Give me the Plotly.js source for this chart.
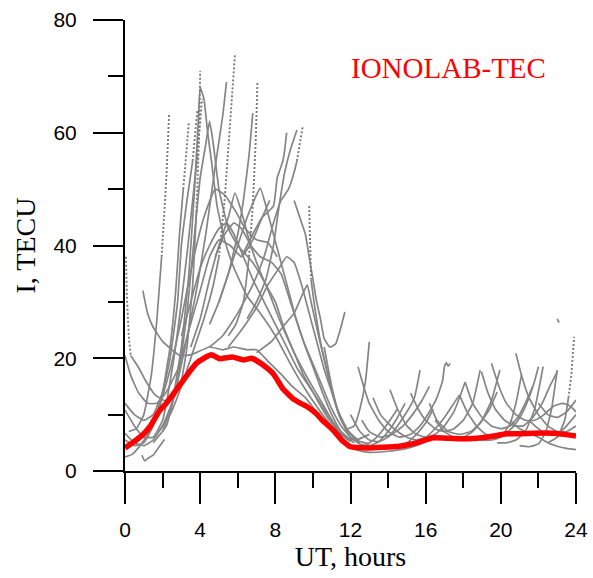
<!DOCTYPE html>
<html>
<head>
<meta charset="utf-8">
<script src="https://cdn.plot.ly/plotly-3.0.1.min.js"></script>
<style>
  html, body { margin: 0; padding: 0; background: #ffffff; }
  #chart { width: 593px; height: 578px; }
</style>
</head>
<body>
<div id="chart"></div>
<script>
// ---- IONOLAB-TEC daily curve: [UT hour, TECU] ----
const ionolabTec = [
  [0, 4.1], [0.6, 5.5], [1.0, 6.6], [1.33, 7.9], [1.86, 10.8], [2.2, 12.0], [2.93, 15.3],
  [3.3, 17.0], [3.8, 19.1], [4.2, 20.0], [4.6, 20.6], [5.05, 19.9], [5.4, 20.1],
  [5.75, 20.2], [6.3, 19.7], [6.75, 20.0], [7.35, 18.8], [7.9, 17.2], [8.4, 14.6],
  [8.95, 12.8], [9.3, 12.1], [9.7, 11.4], [10.2, 10.1], [10.5, 9.0], [11.1, 7.2],
  [11.5, 5.6], [12.0, 4.3], [12.9, 4.1], [13.7, 4.2], [14.6, 4.4], [15.5, 5.0],
  [16.4, 5.9], [17.3, 5.8], [18.2, 5.7], [19.0, 5.9], [19.6, 6.2], [20.3, 6.6],
  [21.0, 6.6], [21.7, 6.7], [22.8, 6.7], [23.4, 6.5], [24, 6.2]
];

// ---- satellite arcs (slant TEC), daytime ----
const arc01 = [[0.3,20.5],[0.7,18.5],[1.1,16],[1.6,13.5],[2.1,12.5],[2.6,13],[3.0,16],[3.3,22],[3.6,33],[3.8,46]];
const arc02 = [[0.2,7],[0.6,7.5],[1.0,10],[1.4,17],[1.7,27],[1.95,38]];
const arc03 = [[0.95,32],[1.2,28],[1.5,25.5],[2.0,23],[2.9,20.5],[3.5,20.6],[4.5,22],[5.2,21.5],[5.8,22],[6.5,21.5],[7.0,21.5],[7.6,19.5],[8.3,17.2],[8.9,15],[9.6,13],[10.3,10],[11.0,7],[11.6,5],[12.2,4.2],[12.8,4.5],[13.4,6],[14.0,8.5],[14.5,11]];
const arc04 = [[0.9,2.8],[1.05,1.8],[1.2,2.2],[1.5,2.8],[1.8,4.2],[2.1,5.6]];
const arc05 = [[0,12],[0.5,10],[1.0,9],[1.5,10],[2.0,14],[2.4,20],[2.8,30],[3.0,40],[3.3,48],[3.6,55]];
const arc06 = [[0,10.8],[0.5,8],[1.0,6],[1.5,6],[2.0,9],[2.6,20],[3.0,30],[3.35,40],[3.6,48],[3.85,56]];
const arc07 = [[0,6.7],[0.5,5],[1.0,4.5],[1.5,5.5],[2.0,8],[2.6,13],[3.2,22],[3.8,32],[4.3,42],[4.8,54],[5.2,63],[5.4,69]];
const arc08 = [[0,2.5],[0.4,3],[0.8,4.5],[1.3,7],[1.8,11],[2.4,18],[3.0,27],[3.6,37],[4.2,45],[4.8,50],[5.3,49],[5.9,46],[6.4,43],[7.0,41],[7.6,40.5],[8.1,38]];
const arc09 = [[0,20.5],[0.3,17],[0.7,14],[1.2,12],[1.7,12],[2.2,14],[2.8,18],[3.4,25],[4.0,32],[4.5,38],[5.0,41],[5.6,40],[6.2,38],[6.8,41],[7.3,45],[7.7,48]];
const arc10 = [[1.8,7],[2.4,10],[3.0,15],[3.6,21],[4.2,27],[4.7,33],[5.0,38]];
const arc11 = [[2.0,7],[2.5,12],[3.0,22],[3.4,35],[3.7,50],[3.9,62],[4.0,68],[4.2,66],[4.4,60],[4.6,55],[4.9,47],[5.3,41],[5.8,36],[6.5,31],[7.2,28],[8.0,24],[8.8,19],[9.5,15],[10.3,11],[11.0,8],[11.7,6],[12.3,5.5],[13.0,6.5]];
const arc12 = [[1.5,5],[2.2,8],[2.8,16],[3.3,28],[3.7,42],[4.0,52],[4.3,58],[4.5,62],[4.7,58],[5.0,50],[5.5,43],[6.0,40],[6.8,37],[7.5,33],[8.2,27],[9.0,21],[9.8,16],[10.5,12],[11.2,8],[11.8,6]];
const arc13 = [[5.5,24],[5.9,26],[6.3,30],[6.6,38]];
const arc14 = [[5.0,30],[5.5,35],[6.0,42],[6.3,48],[6.6,56],[6.8,63.5]];
const arc15 = [[6.5,27],[7.0,30],[7.5,34],[7.9,40],[8.2,47],[8.5,53],[8.8,57],[9.15,60.5]];
const arc16 = [[6.2,38],[6.8,42],[7.3,45],[7.9,47],[8.1,52],[8.4,55],[8.5,57],[8.6,60]];
const arc17 = [[9.9,34],[10.1,29],[10.4,23],[10.7,18.5],[11.1,13],[11.5,9],[12.0,6],[12.5,4.8],[13.0,4.5],[13.5,5.2],[14.0,7],[14.5,9.5],[14.9,12]];
const arc18 = [[9.0,48],[9.3,45],[9.6,42],[9.8,38],[10.0,34],[10.2,30],[10.4,27],[10.6,23.5],[10.9,22],[11.2,22.5],[11.45,25],[11.7,28.2]];
const arc19 = [[3.5,22],[4.0,27],[4.5,34],[5.0,40],[5.5,45],[5.85,49.3],[6.2,46],[6.6,41],[7.0,37],[7.5,33],[8.0,30],[8.5,25],[9.0,21],[9.5,17],[10.0,14],[10.5,11],[11.0,8.5],[11.5,6.5],[12.0,5.2]];
const arc20 = [[4.5,26],[5.0,30],[5.5,35],[6.0,40],[6.5,45],[7.0,49],[7.2,50.2],[7.5,47],[7.9,42],[8.3,37],[8.7,32],[9.1,27],[9.5,23],[10.0,19],[10.5,15],[11.0,11],[11.5,8],[12.0,6],[12.5,5]];
const arc21 = [[4.8,38],[5.3,42],[5.8,44],[6.2,43],[6.7,40],[7.2,38],[7.8,37],[8.3,35],[8.8,30],[9.2,26],[9.6,22],[10.0,18.5],[10.5,14],[11.0,10],[11.5,7],[12.0,5.5]];
const arc22 = [[4.5,22],[5.2,24],[6.0,28],[6.8,33],[7.4,38],[7.9,44],[8.3,48],[8.7,50],[9.0,53],[9.15,55]];
const arc23 = [[3.0,24],[3.5,30],[4.0,36],[4.5,40],[5.0,43],[5.4,44],[5.8,42],[6.3,38],[6.8,34],[7.4,30],[8.0,26],[8.6,22],[9.2,18],[9.8,15],[10.4,12],[11.0,9],[11.6,6.5],[12.2,5]];
const arc24 = [[5.5,22],[6.2,25],[7.0,29],[7.6,33],[8.2,36],[8.6,38],[9.0,37],[9.4,33],[9.8,28],[10.2,23],[10.6,18],[11.0,14],[11.4,10],[11.9,7],[12.4,5.5]];
const arc25 = [[7.0,21],[7.8,23],[8.5,26],[9.0,28],[9.4,31],[9.7,33],[9.9,30],[10.3,24],[10.8,17],[11.3,11],[11.8,7.5],[12.3,5.5],[13.0,4.8]];
const arc50 = [[0,5.5],[0.5,4.5],[1.0,5],[1.5,8],[2.0,14],[2.4,22],[2.7,32],[2.9,42],[3.1,50]];

// steep, sparsely sampled parts of the arcs (drawn dotted)
const tail01a = [[0.05,38],[0.1,31],[0.2,24],[0.3,20.5]];
const tail01b = [[3.8,46],[3.95,60],[4.0,71]];
const tail02 = [[1.95,38],[2.2,52],[2.35,63.5]];
const tail05 = [[3.6,55],[3.75,60],[3.85,64]];
const tail06 = [[3.85,56],[4.0,62],[4.1,66]];
const tail10 = [[5.0,38],[5.3,48],[5.6,62],[5.85,73.8]];
const tail13 = [[6.6,38],[6.8,47],[6.95,58],[7.05,69]];
const tail17 = [[9.8,47],[9.85,40],[9.9,34]];
const tail22 = [[9.15,55],[9.3,58],[9.45,61]];
const tail50 = [[3.1,50],[3.3,58],[3.4,62]];

// ---- satellite arcs, afternoon and night ----
const arc26 = [[12.4,18.5],[12.7,15],[13.0,12],[13.5,9],[14.0,7],[14.6,6],[15.2,6.5],[15.7,8],[16.2,10.5],[16.6,13],[16.9,16],[17.0,18.5],[17.1,19.2],[17.2,18.6],[17.3,19.1]];
const arc27 = [[10.6,22],[11.0,15],[11.4,10],[11.8,7.5],[12.2,8],[12.5,11],[12.8,16],[13.0,22.9]];
const arc28 = [[12.0,10],[12.5,7],[13.0,5.5],[13.5,5.2],[14.0,6],[14.5,8],[15.0,10.5],[15.4,13],[15.7,17.9]];
const arc29 = [[13.2,13],[13.6,10],[14.0,8.5],[14.5,7],[15.0,6],[15.5,5.5],[16.0,6],[16.5,7.5],[17.0,9.5],[17.5,12],[17.8,13.5]];
const arc30 = [[14.1,14.4],[14.5,11],[15.0,8],[15.5,6.5],[16.0,6],[16.5,6.5],[17.0,8],[17.5,10.5],[17.8,13],[18.1,15.8]];
const arc31 = [[15.2,13.8],[15.6,11],[16.0,9],[16.5,7.5],[17.0,7],[17.5,7.5],[18.0,9],[18.5,12],[18.9,17.9]];
const arc32 = [[11.8,4.5],[12.3,3.8],[13.0,3.3],[14.0,3.5],[15.0,4.0],[15.6,4.6],[16.2,5.5]];
const arc33 = [[17.8,13.5],[18.2,10.5],[18.7,8],[19.2,6.5],[19.7,6],[20.2,6.5],[20.7,8],[21.1,10],[21.5,13],[21.8,16],[22.0,18.5]];
const arc34 = [[18.1,15.8],[18.5,12],[19.0,9.5],[19.5,8],[20.0,7.5],[20.5,8],[20.9,9.5],[21.3,12],[21.7,15]];
const arc35 = [[18.97,17.6],[19.3,14],[19.7,11],[20.2,9],[20.7,8],[21.2,8],[21.7,9.5],[22.2,12],[22.6,15],[23.0,17.6]];
const arc36 = [[19.5,19.1],[19.9,15],[20.3,12],[20.8,10],[21.3,9],[21.8,9],[22.3,10],[22.8,11.5],[23.3,12],[23.7,11.5],[24.0,10.5]];
const arc37 = [[20.8,20.9],[21.1,17],[21.5,13],[22.0,10],[22.5,8],[23.0,7],[23.5,7],[24.0,8]];
const arc38 = [[16.5,9],[17.0,7],[17.5,6],[18.0,6],[18.5,7],[19.0,9],[19.5,12.5],[19.95,17.9]];
const arc39 = [[18.5,6],[19.0,5.5],[19.5,5.5],[20.0,6],[20.5,8.5],[20.8,12],[21.1,17]];
const arc40 = [[19.8,5],[20.3,5],[20.8,5.5],[21.3,7],[21.8,11],[22.25,18.5]];
const arc41 = [[21.0,4.5],[21.5,4.3],[22.0,4.8],[22.4,7],[22.7,11],[23.0,17.9]];
const arc42 = [[22.5,5],[23.0,6],[23.4,9],[23.6,13]];
const arc43 = [[23.0,27.0],[23.1,26.3]];
const arc44 = [[20.5,9],[21.0,7.5],[22.0,6],[22.5,5],[23.0,4.4],[23.5,4],[24.0,3.8]];
const arc45 = [[21.5,9],[22.0,7.5],[22.5,6.5],[23.0,6.5],[23.5,8],[24.0,10]];
const arc46 = [[22.0,12],[22.5,10],[23.0,9.5],[23.5,10.5],[24.0,12.6]];
const arc47 = [[14.5,4.5],[15.0,5],[15.5,6.5],[16.0,8.5],[16.4,11]];
const arc48 = [[16.2,12],[16.6,9],[17.2,7],[17.8,6.5],[18.4,7],[18.9,8.5],[19.4,11],[19.8,14]];
const arc49 = [[12.6,9],[13.0,7],[13.6,6],[14.2,6.5],[14.8,8],[15.3,10],[15.8,12.5],[16.2,15]];
const tail42 = [[23.6,13],[23.75,17],[23.9,23.8]];

const solidArcs = [arc01, arc02, arc03, arc04, arc05, arc06, arc07, arc08, arc09, arc10,
  arc11, arc12, arc13, arc14, arc15, arc16, arc17, arc18, arc19, arc20, arc21, arc22,
  arc23, arc24, arc25, arc26, arc27, arc28, arc29, arc30, arc31, arc32, arc33, arc34,
  arc35, arc36, arc37, arc38, arc39, arc40, arc41, arc42, arc43, arc44, arc45, arc46,
  arc47, arc48, arc49, arc50];
const dottedArcs = [tail01a, tail01b, tail02, tail05, tail06, tail10, tail13, tail17, tail22, tail42, tail50];

const xTicks = [0, 4, 8, 12, 16, 20, 24];
const yTicks = [0, 20, 40, 60, 80];

const GRAY = '#858585';
const traces = [];
solidArcs.forEach(a => traces.push({
  x: a.map(p => p[0]), y: a.map(p => p[1]),
  type: 'scatter', mode: 'lines', hoverinfo: 'skip', showlegend: false,
  line: { color: GRAY, width: 1.7, shape: 'spline', smoothing: 0.4 }
}));
dottedArcs.forEach(a => traces.push({
  x: a.map(p => p[0]), y: a.map(p => p[1]),
  type: 'scatter', mode: 'lines', hoverinfo: 'skip', showlegend: false,
  line: { color: '#7a7a7a', width: 1.9, dash: '2px,2px' }
}));
traces.push({
  x: ionolabTec.map(p => p[0]), y: ionolabTec.map(p => p[1]),
  type: 'scatter', mode: 'lines', name: 'IONOLAB-TEC', showlegend: false,
  line: { color: '#ff0000', width: 5.5, shape: 'spline', smoothing: 0.4 }
});

const layout = {
  width: 593, height: 578,
  margin: { l: 125, r: 17, t: 20, b: 107 },
  paper_bgcolor: '#ffffff', plot_bgcolor: '#ffffff',
  showlegend: false,
  xaxis: {
    range: [0, 24], tickvals: xTicks, ticktext: xTicks.map(String),
    showgrid: false, zeroline: false, showline: true, linecolor: '#000', linewidth: 2,
    ticks: 'outside', ticklen: 31, tickwidth: 2, tickcolor: '#000', ticklabelstandoff: 8,
    minor: { dtick: 2, tick0: 0, ticks: 'outside', ticklen: 15, tickwidth: 2, tickcolor: '#000', showgrid: false },
    tickfont: { family: 'Liberation Sans, Arial, sans-serif', size: 21, color: '#000' },
    title: { text: 'UT, hours', font: { family: 'Liberation Serif, Times New Roman, serif', size: 28, color: '#000' }, standoff: 2 },
    fixedrange: true
  },
  yaxis: {
    range: [0, 80], tickvals: yTicks, ticktext: yTicks.map(String),
    showgrid: false, zeroline: false, showline: true, linecolor: '#000', linewidth: 2,
    ticks: 'outside', ticklen: 30, tickwidth: 2, tickcolor: '#000', ticklabelstandoff: 12,
    minor: { dtick: 10, tick0: 0, ticks: 'outside', ticklen: 15, tickwidth: 2, tickcolor: '#000', showgrid: false },
    tickfont: { family: 'Liberation Sans, Arial, sans-serif', size: 21, color: '#000' },
    title: { text: 'I, TECU', font: { family: 'Liberation Serif, Times New Roman, serif', size: 28, color: '#000' }, standoff: 10 },
    fixedrange: true
  },
  annotations: [{
    x: 17.2, y: 71.5, xref: 'x', yref: 'y', text: 'IONOLAB-TEC', showarrow: false,
    font: { family: 'Liberation Serif, Times New Roman, serif', size: 29, color: '#ff0000' }
  }]
};

Plotly.newPlot('chart', traces, layout, { staticPlot: true, displayModeBar: false });
</script>
</body>
</html>
